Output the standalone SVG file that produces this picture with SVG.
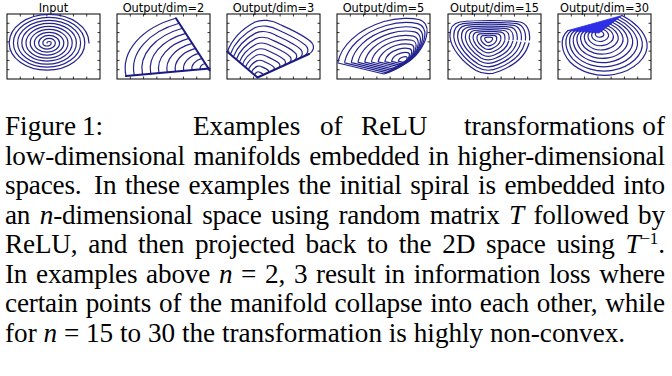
<svg xmlns="http://www.w3.org/2000/svg" xmlns:xlink="http://www.w3.org/1999/xlink" width="672" height="376" viewBox="0 0 672 376">
<style>
.frame{fill:none;stroke:#000;stroke-width:1}
.tick{fill:none;stroke:#000;stroke-width:0.8}
.sp{fill:none;stroke:#23238f;stroke-linejoin:round;stroke-linecap:round}
.spw{fill:none;stroke:#23238f;stroke-width:1.2;stroke-linejoin:round;stroke-linecap:round}
.thick{fill:none;stroke:#1a1a80;stroke-width:2;stroke-linecap:round}
.ttl{font-family:"DejaVu Sans",sans-serif;font-size:11.4px;fill:#000;text-anchor:middle}
.cap{font-family:"Liberation Serif","Times New Roman",serif;font-size:27.2px;fill:#000}
.it{font-style:italic}
</style>
<defs>
<g id="axes">
<rect class="frame" x="0" y="0" width="93" height="65"/>
<path class="tick" d="M13.29 0v2.5M26.57 0v2.5M39.86 0v2.5M53.14 0v2.5M66.43 0v2.5M79.71 0v2.5M13.29 65v-2.5M26.57 65v-2.5M39.86 65v-2.5M53.14 65v-2.5M66.43 65v-2.5M79.71 65v-2.5M0 9.29h2.5M0 18.57h2.5M0 27.86h2.5M0 37.14h2.5M0 46.43h2.5M0 55.71h2.5M93 9.29h-2.5M93 18.57h-2.5M93 27.86h-2.5M93 37.14h-2.5M93 46.43h-2.5M93 55.71h-2.5"/>
</g>
<path id="r3" class="sp" d="M227.3 51.7C231 42 240 30 255 22C262 19 272 20 280 24.5C292 30 306 36 312 43C315 47 313 52 309 54"/>
<path id="r5" class="sp" d="M338 62C341 47 356 30 384 21.5C398 17.5 412 18 419 19.5C425 21 428 27 427 33C426 42 419 55 408 62C402 66 394 71 384 74L338 63"/>
<path id="r15" class="sp" d="M529 43C526 55 515 65 500 71C492 74.5 484 75 476 70.5C462 62 451 48 450 37C449.5 29 452 23.5 460 22C476 20 505 20 520 22C527 23.5 530.5 31 529.5 40"/>
<path id="r30" class="sp" d="M622 15.5C633 21 645 31 647 43C649 57 634 71 614 74.5C597 77.5 580 72 570 62C561 52 559 38 568 30.5"/>
</defs>

<g id="panel-input">
<text class="ttl" x="53.5" y="11.5">Input</text>
<use xlink:href="#axes" x="7" y="14"/>
<path class="spw" d="M47 43A2.1 1.512 0 0 1 51.2 43A4.2 3.024 0 0 1 42.8 43A6.3 4.536 0 0 1 55.4 43A8.4 6.048 0 0 1 38.6 43A10.5 7.56 0 0 1 59.6 43A12.6 9.072 0 0 1 34.4 43A14.7 10.584 0 0 1 63.8 43A16.8 12.096 0 0 1 30.2 43A18.9 13.608 0 0 1 68 43A21 15.12 0 0 1 26 43A23.1 16.632 0 0 1 72.2 43A25.2 18.144 0 0 1 21.8 43A27.3 19.656 0 0 1 76.4 43A29.4 21.168 0 0 1 17.6 43A31.5 22.68 0 0 1 80.6 43A33.6 24.192 0 0 1 13.4 43A35.7 25.704 0 0 1 84.8 43A37.8 27.216 0 0 1 9.2 43A39.9 28.728 0 0 1 89 43"/>
</g>

<g id="panel-dim2">
<text class="ttl" x="163.5" y="11.5">Output/dim=2</text>
<use xlink:href="#axes" x="117" y="14"/>
<path class="spw" d="M205.25 63.47A8.33 5.46 0 0 0 200.25 69.26M201.99 58.45A16.66 10.92 0 0 0 192 70.02M198.74 53.42A24.99 16.38 0 0 0 183.75 70.78M195.48 48.4A33.32 21.84 0 0 0 175.5 71.54M192.23 43.37A41.65 27.3 0 0 0 167.26 72.3M188.97 38.34A49.98 32.76 0 0 0 159.01 73.06M185.72 33.32A58.31 38.22 0 0 0 150.76 73.82M182.46 28.29A66.64 43.68 0 0 0 142.51 74.58M179.21 23.27A74.97 49.14 0 0 0 134.26 75.34M175.95 18.24A83.3 54.6 0 0 0 126.01 76.1"/>
<path class="thick" d="M175.95 18.24L209.6 70.2M126 76.1L209.6 68.4"/>
</g>

<g id="panel-dim3">
<text class="ttl" x="273.5" y="11.5">Output/dim=3</text>
<use xlink:href="#axes" x="227" y="14"/>
<g transform="translate(257.5 77.5)">
<use xlink:href="#r3" transform="scale(0.1) translate(-257.5 -77.5)" stroke-width="12"/>
<use xlink:href="#r3" transform="scale(0.2) translate(-257.5 -77.5)" stroke-width="6"/>
<use xlink:href="#r3" transform="scale(0.3) translate(-257.5 -77.5)" stroke-width="4"/>
<use xlink:href="#r3" transform="scale(0.4) translate(-257.5 -77.5)" stroke-width="3"/>
<use xlink:href="#r3" transform="scale(0.5) translate(-257.5 -77.5)" stroke-width="2.4"/>
<use xlink:href="#r3" transform="scale(0.6) translate(-257.5 -77.5)" stroke-width="2"/>
<use xlink:href="#r3" transform="scale(0.7) translate(-257.5 -77.5)" stroke-width="1.714"/>
<use xlink:href="#r3" transform="scale(0.8) translate(-257.5 -77.5)" stroke-width="1.5"/>
<use xlink:href="#r3" transform="scale(0.9) translate(-257.5 -77.5)" stroke-width="1.333"/>
<use xlink:href="#r3" transform="scale(1) translate(-257.5 -77.5)" stroke-width="1.2"/>
</g>
<path class="thick" d="M227.3 51.7L257.5 77.5L309 54"/>
</g>

<g id="panel-dim5">
<text class="ttl" x="383.5" y="11.5">Output/dim=5</text>
<use xlink:href="#axes" x="337" y="14"/>
<g transform="translate(405 61)">
<use xlink:href="#r5" transform="scale(0.1) translate(-405 -61)" stroke-width="12"/>
<use xlink:href="#r5" transform="scale(0.2) translate(-405 -61)" stroke-width="6"/>
<use xlink:href="#r5" transform="scale(0.3) translate(-405 -61)" stroke-width="4"/>
<use xlink:href="#r5" transform="scale(0.4) translate(-405 -61)" stroke-width="3"/>
<use xlink:href="#r5" transform="scale(0.5) translate(-405 -61)" stroke-width="2.4"/>
<use xlink:href="#r5" transform="scale(0.6) translate(-405 -61)" stroke-width="2"/>
<use xlink:href="#r5" transform="scale(0.7) translate(-405 -61)" stroke-width="1.714"/>
<use xlink:href="#r5" transform="scale(0.8) translate(-405 -61)" stroke-width="1.5"/>
<use xlink:href="#r5" transform="scale(0.9) translate(-405 -61)" stroke-width="1.333"/>
<use xlink:href="#r5" transform="scale(1) translate(-405 -61)" stroke-width="1.2"/>
</g>
</g>

<g id="panel-dim15">
<text class="ttl" x="494.5" y="11.5">Output/dim=15</text>
<use xlink:href="#axes" x="448" y="14"/>
<g transform="translate(488.5 39)">
<use xlink:href="#r15" transform="scale(0.1) translate(-488.5 -39)" stroke-width="12"/>
<use xlink:href="#r15" transform="scale(0.2) translate(-488.5 -39)" stroke-width="6"/>
<use xlink:href="#r15" transform="scale(0.3) translate(-488.5 -39)" stroke-width="4"/>
<use xlink:href="#r15" transform="scale(0.4) translate(-488.5 -39)" stroke-width="3"/>
<use xlink:href="#r15" transform="scale(0.5) translate(-488.5 -39)" stroke-width="2.4"/>
<use xlink:href="#r15" transform="scale(0.6) translate(-488.5 -39)" stroke-width="2"/>
<use xlink:href="#r15" transform="scale(0.7) translate(-488.5 -39)" stroke-width="1.714"/>
<use xlink:href="#r15" transform="scale(0.8) translate(-488.5 -39)" stroke-width="1.5"/>
<use xlink:href="#r15" transform="scale(0.9) translate(-488.5 -39)" stroke-width="1.333"/>
<use xlink:href="#r15" transform="scale(1) translate(-488.5 -39)" stroke-width="1.2"/>
</g>
</g>

<g id="panel-dim30">
<text class="ttl" x="604.5" y="11.5">Output/dim=30</text>
<use xlink:href="#axes" x="558" y="14"/>
<polygon points="568,30.5 622,15.5 599,33" fill="#2e2ee6" stroke="#2e2ee6" stroke-width="0.8" stroke-linejoin="round"/>
<g transform="translate(599 33)">
<use xlink:href="#r30" transform="scale(0.1) translate(-599 -33)" stroke-width="12"/>
<use xlink:href="#r30" transform="scale(0.2) translate(-599 -33)" stroke-width="6"/>
<use xlink:href="#r30" transform="scale(0.3) translate(-599 -33)" stroke-width="4"/>
<use xlink:href="#r30" transform="scale(0.4) translate(-599 -33)" stroke-width="3"/>
<use xlink:href="#r30" transform="scale(0.5) translate(-599 -33)" stroke-width="2.4"/>
<use xlink:href="#r30" transform="scale(0.6) translate(-599 -33)" stroke-width="2"/>
<use xlink:href="#r30" transform="scale(0.7) translate(-599 -33)" stroke-width="1.714"/>
<use xlink:href="#r30" transform="scale(0.8) translate(-599 -33)" stroke-width="1.5"/>
<use xlink:href="#r30" transform="scale(0.9) translate(-599 -33)" stroke-width="1.333"/>
<use xlink:href="#r30" transform="scale(1) translate(-599 -33)" stroke-width="1.2"/>
</g>
</g>

<g id="caption">
<text class="cap" x="5" y="135">Figure</text>
<text class="cap" x="82" y="135">1:</text>
<text class="cap" x="193" y="135">Examples</text>
<text class="cap" x="320" y="135">of</text>
<text class="cap" x="361" y="135">ReLU</text>
<text class="cap" x="464" y="135">transformations</text>
<text class="cap" x="665" y="135" text-anchor="end">of</text>
<text class="cap" x="5" y="164.5" textLength="660" lengthAdjust="spacing" word-spacing="2.1">low-dimensional manifolds embedded in higher-dimensional</text>
<text class="cap" x="5" y="194" textLength="660" lengthAdjust="spacing" word-spacing="2">spaces.<tspan dx="4"> In</tspan> these examples the initial spiral is embedded into</text>
<text class="cap" x="5" y="223.5" textLength="660" lengthAdjust="spacing" word-spacing="2.9">an <tspan class="it">n</tspan>-dimensional space using random matrix <tspan class="it">T</tspan> followed by</text>
<text class="cap" x="5" y="253" textLength="660" lengthAdjust="spacing" word-spacing="4.2">ReLU, and then projected back to the 2D space using <tspan class="it">T</tspan><tspan font-size="17" dy="-9">−1</tspan><tspan dy="9">.</tspan></text>
<text class="cap" x="5" y="282.5" textLength="660" lengthAdjust="spacing" word-spacing="2.2">In examples above <tspan class="it">n</tspan> = 2, 3 result in information loss where</text>
<text class="cap" x="5" y="312" textLength="660" lengthAdjust="spacing" word-spacing="1.3">certain points of the manifold collapse into each other, while</text>
<text class="cap" x="5" y="341.5">for <tspan class="it">n</tspan> = 15 to 30 the transformation is highly non-convex.</text>
</g>
</svg>
